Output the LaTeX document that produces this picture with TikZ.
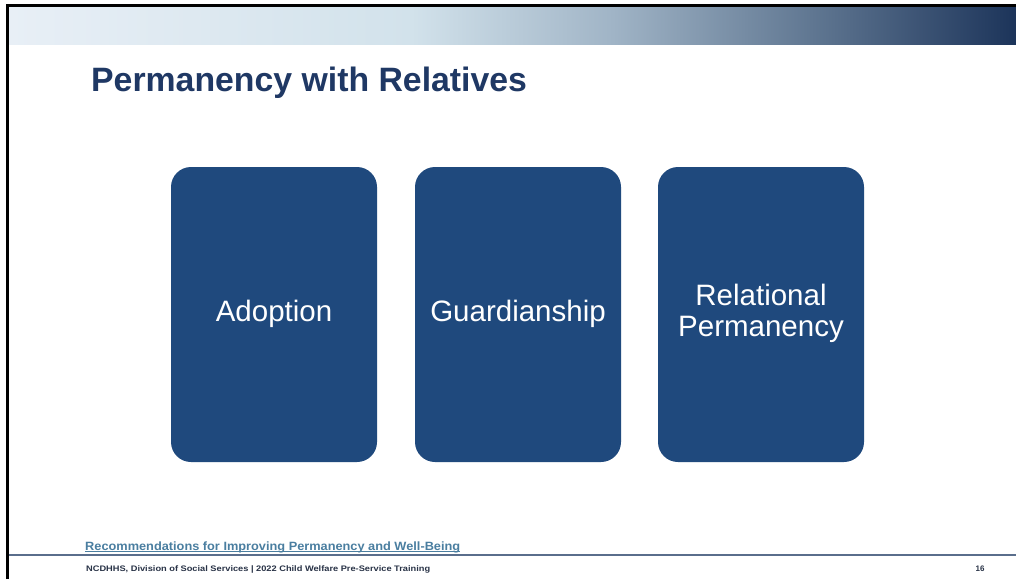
\documentclass[tikz,border=0pt]{standalone}
\usepackage{fontspec}
\setmainfont{Liberation Sans}
\usepackage{graphicx}
\definecolor{boxblue}{RGB}{31,73,125}
\definecolor{titleblue}{RGB}{31,56,100}
\definecolor{linkblue}{RGB}{74,126,160}
\definecolor{rulecol}{RGB}{90,110,140}
\definecolor{footcol}{RGB}{40,50,70}
\definecolor{ga}{RGB}{232,239,246}
\definecolor{gb}{RGB}{210,226,235}
\definecolor{gc}{RGB}{160,180,198}
\definecolor{gd}{RGB}{95,118,145}
\definecolor{ge}{RGB}{28,52,90}
\pgfdeclarehorizontalshading{topbar}{100bp}{color(0bp)=(ga); color(25bp)=(ga); color(45bp)=(gb); color(55bp)=(gc); color(65bp)=(gd); color(75bp)=(ge); color(100bp)=(ge)}
\tikzset{
  card/.style={fill=boxblue, draw=none, rounded corners=20pt, minimum width=206pt, minimum height=295pt, inner sep=0pt},
  cardtext/.style={text=white, font=\fontsize{29.5}{31}\selectfont, align=center},
}
\begin{document}
\begin{tikzpicture}[x=1pt,y=-1pt]
\useasboundingbox (0,0) rectangle (1016,579);
\fill[white] (0,0) rectangle (1016,579);
% gradient bar
\shade[shading=topbar] (8,6) rectangle (1016,44);
% frame
\draw[black, line width=3pt] (7.5,579) -- (7.5,5) -- (1016,5);
% title
\node[anchor=base west, inner sep=0pt, text=titleblue, font=\fontsize{33.8}{36}\selectfont\bfseries] (title) at (91,91) {Permanency with Relatives};
% cards
\node[card] (c1) at (274,314.5) {};
\node[card] (c2) at (518,314.5) {};
\node[card] (c3) at (761,314.5) {};
\node[cardtext] (t1) at ([yshift=1pt]c1.center) {Adoption};
\node[cardtext] (t2) at ([yshift=1pt]c2.center) {Guardianship};
\node[cardtext] (t3) at ([yshift=1pt]c3.center) {Relational\\Permanency};
% link
\node[anchor=base west, inner sep=0pt, text=linkblue, font=\fontsize{12}{13}\selectfont\bfseries] (link) at (85,550) {\resizebox{375pt}{\height}{Recommendations for Improving Permanency and Well-Being}};
\draw[linkblue, line width=0.9pt] ([yshift=-1.8pt]link.base west) -- ([yshift=-1.8pt]link.base east);
% rule
\draw[rulecol, line width=2pt] (9,555) -- (1016,555);
% footer
\node[anchor=base west, inner sep=0pt, text=footcol, font=\fontsize{8}{9}\selectfont\bfseries] (foot) at (86,571) {\resizebox{344pt}{\height}{NCDHHS, Division of Social Services | 2022 Child Welfare Pre-Service Training}};
\node[anchor=base, inner sep=0pt, text=footcol, font=\fontsize{8}{9}\selectfont\bfseries] (pnum) at (980,571) {16};
\end{tikzpicture}
\end{document}
